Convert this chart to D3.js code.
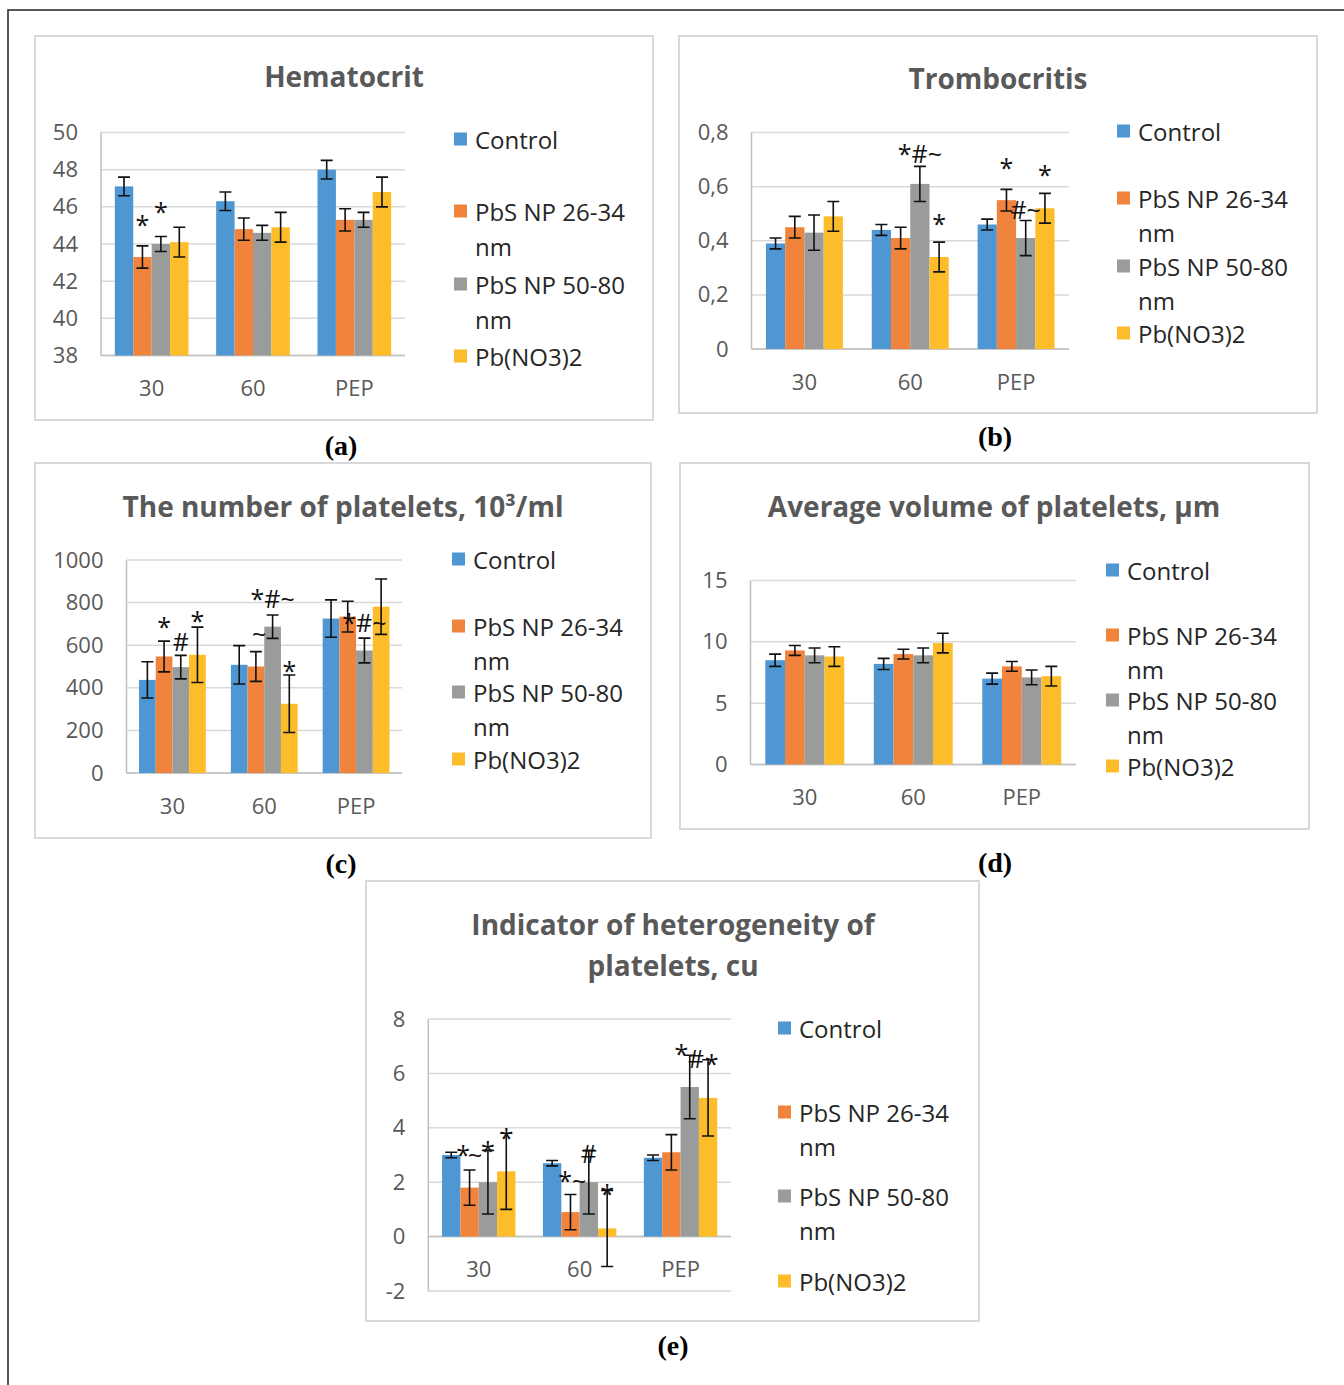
<!DOCTYPE html>
<html>
<head>
<meta charset="utf-8">
<script src="https://cdn.jsdelivr.net/npm/d3@7"></script>
<style>
  body { margin: 0; background: #fff; }
  svg { display: block; }
</style>
</head>
<body>
<div id="content"></div>
<script>
// ---- data ----
const categories = ["30", "60", "PEP"];
const seriesNames = [["Control"], ["PbS NP 26-34", "nm"], ["PbS NP 50-80", "nm"], ["Pb(NO3)2"]];

// values[series][category]
const hematocrit    = [[47.1, 46.3, 48.0], [43.3, 44.8, 45.3], [44.0, 44.6, 45.3], [44.1, 44.9, 46.8]];
const hematocritErr = [[0.5, 0.5, 0.5], [0.6, 0.6, 0.6], [0.4, 0.4, 0.4], [0.8, 0.8, 0.8]];
const hematocritTicks = [38, 40, 42, 44, 46, 48, 50];

const trombocrit    = [[0.39, 0.44, 0.46], [0.45, 0.41, 0.55], [0.43, 0.61, 0.41], [0.49, 0.34, 0.52]];
const trombocritErr = [[0.02, 0.02, 0.02], [0.04, 0.04, 0.04], [0.065, 0.065, 0.065], [0.055, 0.055, 0.055]];
const trombocritTicks = [0, 0.2, 0.4, 0.6, 0.8];

const plateletCount    = [[437, 508, 725], [547, 500, 734], [497, 687, 575], [555, 325, 781]];
const plateletCountErr = [[85, 90, 88], [72, 70, 72], [55, 55, 58], [130, 135, 130]];
const plateletCountTicks = [0, 200, 400, 600, 800, 1000];

const plateletVolume    = [[8.5, 8.2, 7.0], [9.3, 9.0, 8.0], [8.9, 8.9, 7.1], [8.8, 9.9, 7.2]];
const plateletVolumeErr = [[0.5, 0.45, 0.45], [0.4, 0.4, 0.4], [0.6, 0.6, 0.6], [0.8, 0.8, 0.8]];
const plateletVolumeTicks = [0, 5, 10, 15];

const heterogeneity    = [[3.0, 2.7, 2.9], [1.8, 0.9, 3.1], [2.0, 2.0, 5.5], [2.4, 0.3, 5.1]];
const heterogeneityErr = [[0.1, 0.1, 0.1], [0.65, 0.65, 0.65], [1.17, 1.17, 1.17], [1.4, 1.4, 1.4]];
const heterogeneityTicks = [-2, 0, 2, 4, 6, 8];

// significance marks: [category, series, text, value where the mark sits, shift in bar widths]
const hematocritMarks = [[0, 1, "*", 45.1, 0], [0, 2, "*", 45.8, 0]];
const trombocritMarks = [[1, 2, "*#~", 0.725, 0], [1, 3, "*", 0.466, 0], [2, 1, "*", 0.673, 0],
                         [2, 2, "#~", 0.518, 0], [2, 3, "*", 0.647, 0]];
const plateletCountMarks = [[0, 1, "*", 689, 0], [0, 2, "#", 619, 0], [0, 3, "*", 717, 0],
                            [1, 1, "~", 656, 0.2], [1, 2, "*#~", 820, 0], [1, 3, "*", 483, 0],
                            [2, 2, "*#~", 708, 0]];
const plateletVolumeMarks = [];
const heterogeneityMarks = [[0, 1, "*", 3.04, -0.35], [0, 1, "~", 3.04, 0.3], [0, 2, "*", 3.18, 0],
                            [0, 3, "*", 3.67, 0], [1, 1, "*~", 2.08, 0.1], [1, 2, "#", 3.07, 0],
                            [1, 3, "*", 1.6, 0], [2, 2, "*", 6.75, -0.45], [2, 2, "#", 6.57, 0.35],
                            [2, 3, "*", 6.38, 0.2]];

// ---- styling / layout ----
const colors = ["#4e97d2", "#f0843c", "#9a9c9c", "#fdbc2a"];
const font = "'Open Sans', 'DejaVu Sans', sans-serif";

const panels = [
  { title: ["Hematocrit"], values: hematocrit, errors: hematocritErr, ticks: hematocritTicks, marks: hematocritMarks,
    box: [35, 36, 653, 420], plot: [101, 405, 132.5, 355.5], titleXY: [344, 76], legendX: 454,
    legendY: [139, 211, 284, 356], lineGap: 35, caption: "(a)", capXY: [341, 445] },
  { title: ["Trombocritis"], values: trombocrit, errors: trombocritErr, ticks: trombocritTicks, marks: trombocritMarks,
    box: [679, 36, 1317, 413], plot: [751.5, 1069, 132.5, 349], titleXY: [998, 78], legendX: 1117,
    legendY: [131, 198, 266, 333], lineGap: 34, caption: "(b)", capXY: [995, 436] },
  { title: ["The number of platelets, 10³/ml"], values: plateletCount, errors: plateletCountErr, ticks: plateletCountTicks,
    marks: plateletCountMarks, box: [35, 463, 651, 838], plot: [126.5, 402, 560, 773], titleXY: [343, 506],
    legendX: 452, legendY: [559, 626, 692, 759], lineGap: 34, caption: "(c)", capXY: [341, 863] },
  { title: ["Average volume of platelets, µm"], values: plateletVolume, errors: plateletVolumeErr, ticks: plateletVolumeTicks,
    marks: plateletVolumeMarks, box: [680, 463, 1309, 829], plot: [750.5, 1076, 580.5, 764.5], titleXY: [994, 506],
    legendX: 1106, legendY: [570, 635, 700, 766], lineGap: 34, caption: "(d)", capXY: [995, 862] },
  { title: ["Indicator of heterogeneity of", "platelets, cu"], values: heterogeneity, errors: heterogeneityErr,
    ticks: heterogeneityTicks, marks: heterogeneityMarks, box: [366, 881, 979, 1321], plot: [428.3, 731, 1019, 1291],
    titleXY: [673, 924], legendX: 778, legendY: [1028, 1112, 1196, 1281], lineGap: 34, caption: "(e)", capXY: [673, 1345] }
];

const svg = d3.select("#content").append("svg").attr("width", 1344).attr("height", 1385);

// outer frame
svg.append("path").attr("d", "M8,1385V10H1344").attr("fill", "none").attr("stroke", "#222").attr("stroke-width", 1.5);

function fmt(v) {
  if (v === 0) return "0";
  return Number.isInteger(v) ? String(v) : d3.format(".1f")(v).replace(".", ",");
}

panels.forEach(p => {
  const g = svg.append("g");
  const [bx0, by0, bx1, by1] = p.box;
  g.append("rect").attr("x", bx0).attr("y", by0).attr("width", bx1 - bx0).attr("height", by1 - by0)
    .attr("fill", "#fff").attr("stroke", "#d9d9d9").attr("stroke-width", 2);

  p.title.forEach((t, i) => {
    g.append("text").text(t)
      .attr("x", p.titleXY[0]).attr("y", p.titleXY[1] + i * 41)
      .attr("text-anchor", "middle").attr("dominant-baseline", "central")
      .style("font-family", font).style("font-size", "28px").style("font-weight", "bold").style("fill", "#595959");
  });

  const [px0, px1, pyTop, pyBot] = p.plot;
  const dom = d3.extent(p.ticks);
  const y = d3.scaleLinear().domain(dom).range([pyBot, pyTop]);
  const base = dom[0] > 0 ? dom[0] : 0;

  const x0 = d3.scaleBand().domain(categories).range([px0, px1]).paddingInner(1.5 / 5.5).paddingOuter(0.75 / 5.5);
  const x1 = d3.scaleBand().domain(d3.range(seriesNames.length)).range([0, x0.bandwidth()]);

  // gridlines
  g.selectAll(".grid").data(p.ticks).enter().append("line")
    .attr("x1", px0).attr("x2", px1).attr("y1", d => y(d)).attr("y2", d => y(d))
    .attr("stroke", "#d9d9d9").attr("stroke-width", 1.5);

  // y axis labels
  const yAxis = g.append("g").attr("transform", `translate(${px0},0)`)
    .call(d3.axisLeft(y).tickValues(p.ticks).tickSize(0).tickPadding(23).tickFormat(fmt));
  yAxis.select(".domain").remove();
  yAxis.selectAll("text").style("font-family", font).style("font-size", "22px").style("fill", "#595959");

  // axis lines
  g.append("line").attr("x1", px0).attr("x2", px0).attr("y1", pyTop).attr("y2", pyBot)
    .attr("stroke", "#bfbfbf").attr("stroke-width", 1.5);
  g.append("line").attr("x1", px0).attr("x2", px1).attr("y1", y(base)).attr("y2", y(base))
    .attr("stroke", "#bfbfbf").attr("stroke-width", 1.5);

  // x axis labels
  const xAxis = g.append("g").attr("transform", `translate(0,${y(base)})`)
    .call(d3.axisBottom(x0).tickSize(0).tickPadding(25));
  xAxis.select(".domain").remove();
  xAxis.selectAll("text").style("font-family", font).style("font-size", "22px").style("fill", "#595959");

  // bars
  p.values.forEach((vals, si) => {
    g.selectAll(null).data(vals).enter().append("rect")
      .attr("x", (d, ci) => x0(categories[ci]) + x1(si))
      .attr("y", d => y(Math.max(d, base)))
      .attr("width", x1.bandwidth())
      .attr("height", d => Math.abs(y(base) - y(d)))
      .attr("fill", colors[si]);
  });

  // error bars
  const cap = 6;
  p.values.forEach((vals, si) => {
    vals.forEach((v, ci) => {
      const e = p.errors[si][ci];
      const cx = x0(categories[ci]) + x1(si) + x1.bandwidth() / 2;
      const lo = y(v - e), hi = y(v + e);
      g.append("path")
        .attr("d", `M${cx},${lo}V${hi}M${cx - cap},${lo}H${cx + cap}M${cx - cap},${hi}H${cx + cap}`)
        .attr("fill", "none").attr("stroke", "#111").attr("stroke-width", 1.6);
    });
  });

  // significance marks
  p.marks.forEach(([ci, si, txt, val, shift]) => {
    const cx = x0(categories[ci]) + x1(si) + x1.bandwidth() * (0.5 + shift);
    g.append("text").text(txt)
      .attr("x", cx).attr("y", y(val))
      .attr("text-anchor", "middle").attr("dominant-baseline", "central")
      .style("font-family", font).style("font-size", "25px").style("fill", "#111");
  });

  // legend
  seriesNames.forEach((lines, si) => {
    const ly = p.legendY[si];
    g.append("rect").attr("x", p.legendX).attr("y", ly - 6.5).attr("width", 13).attr("height", 13)
      .attr("fill", colors[si]);
    lines.forEach((t, li) => {
      g.append("text").text(t)
        .attr("x", p.legendX + 21).attr("y", ly + li * p.lineGap)
        .attr("dominant-baseline", "central")
        .style("font-family", font).style("font-size", "24px").style("fill", "#262626");
    });
  });

  // caption
  svg.append("text").text(p.caption)
    .attr("x", p.capXY[0]).attr("y", p.capXY[1])
    .attr("text-anchor", "middle").attr("dominant-baseline", "central")
    .style("font-family", "'Liberation Serif', 'Times New Roman', serif")
    .style("font-size", "28px").style("font-weight", "bold").style("fill", "#000");
});
</script>
</body>
</html>
